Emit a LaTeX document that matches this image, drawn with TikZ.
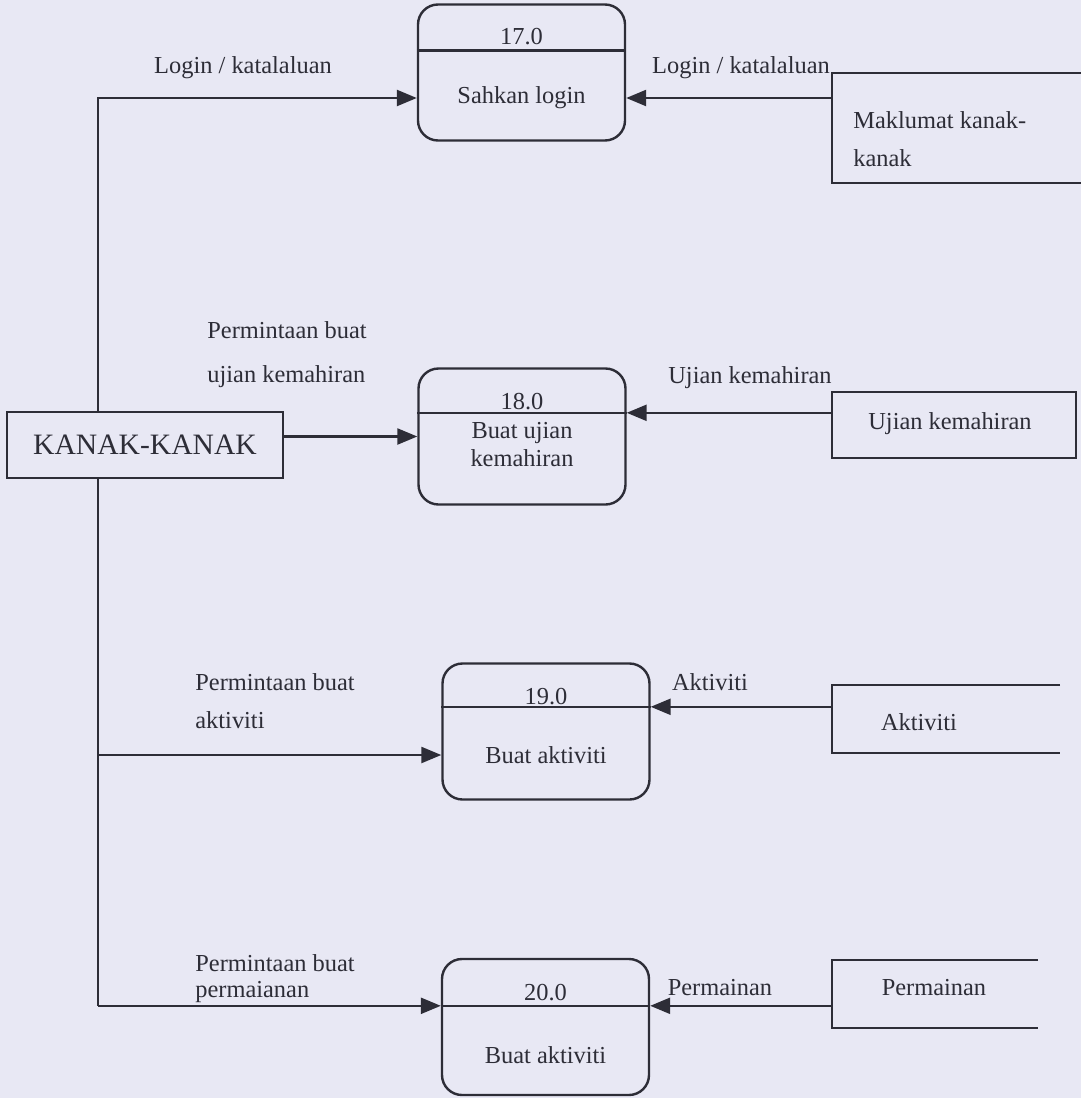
\documentclass[tikz,border=0pt]{standalone}
\usepackage{fontspec}
\setmainfont{Liberation Serif}
\usepackage{tikz}
\usetikzlibrary{arrows.meta,positioning,calc}
\definecolor{kertas}{RGB}{232,232,244}
\definecolor{dakwat}{RGB}{45,45,55}
\newcommand{\simpan}[4]{\draw[garis] (#3,#2) -- (#1,#2) -- (#1,#4) -- (#3,#4);}
\newcommand{\pembahagi}[2]{\draw[garis] ($(#1.north west)+(0,#2)$) coordinate (#1-dw) -- ($(#1.north east)+(0,#2)$) coordinate (#1-de);}
\tikzset{
  garis/.style={draw=dakwat,line width=1.2pt},
  aliran/.style={garis,-{Triangle[length=10pt,width=8pt]}},
  proses/.style={garis,rounded corners=10pt,minimum width=103.5pt,minimum height=68pt,inner sep=0pt},
  teks/.style={text=dakwat,font=\fontsize{12.2}{14}\selectfont,inner sep=0pt},
  luar/.style={garis,fill=kertas,minimum width=138pt,minimum height=33pt,inner sep=0pt,text=dakwat,font=\fontsize{14.8}{17}\selectfont}
}

\begin{document}
\begin{tikzpicture}[x=0.5pt,y=-0.5pt]
\fill[kertas] (0,0) rectangle (1081,1098);
\useasboundingbox (0,0) rectangle (1081,1098);

% proses 17.0 - 20.0
\node[proses] (p17) at (521.5,72.5) {};
\pembahagi{p17}{47}
\node[teks] (p17n) at (521.5,37) {17.0};
\node[teks] (p17t) at (521.5,98) {Sahkan login};

\node[proses] (p18) at (522,436.5) {};
\pembahagi{p18}{45.5}
\node[teks] (p18n) at (522,402) {18.0};
\node[teks,align=center] (p18t) at (522,445) {Buat ujian\\kemahiran};

\node[proses] (p19) at (546,731.5) {};
\pembahagi{p19}{44.5}
\node[teks] (p19n) at (546,697) {19.0};
\node[teks] (p19t) at (546,755) {Buat aktiviti};

\node[proses] (p20) at (545.5,1027) {};
\pembahagi{p20}{48}
\node[teks] (p20n) at (545.5,993) {20.0};
\node[teks] (p20t) at (545.5,1055) {Buat aktiviti};

% entiti luar
\node[luar] (kanak) at (145,445) {KANAK-KANAK};
\coordinate (batang) at (98,0);

% stor data
\simpan{832}{73}{1085}{183}
\draw[garis] (832,392) rectangle (1076,458);
\simpan{832}{685}{1060}{753}
\simpan{832}{960}{1038}{1028}
\coordinate (s1) at (832,128);
\coordinate (s2) at (832,425);
\coordinate (s3) at (832,719);
\coordinate (s4) at (832,994);
\node[teks,anchor=west,align=left] (s1t) at (853,139) {Maklumat kanak-\\[5pt]kanak};
\node[teks] (s2t) at (950,424) {Ujian kemahiran};
\node[teks] (s3t) at (919,722) {Aktiviti};
\node[teks] (s4t) at (934,988) {Permainan};

% aliran data
\draw[aliran] (kanak.north -| batang) |- (p17.west |- p17t);
\draw[aliran] (kanak.east |- p18.west) -- (p18.west);
\draw[garis] (kanak.south -| batang) -- (batang |- p20-dw);
\draw[aliran] (batang |- p19t) -- (p19.west |- p19t);
\draw[aliran] (batang |- p20-dw) -- (p20-dw);
\draw[aliran] (s1 |- p17t) -- (p17.east |- p17t);
\draw[aliran] (s2 |- p18-de) -- (p18-de);
\draw[aliran] (s3 |- p19-de) -- (p19-de);
\draw[aliran] (s4 |- p20-de) -- (p20-de);

% label aliran
\node[teks] (l1) at (243,68) {Login / katalaluan};
\node[teks] (l2) at (741,68) {Login / katalaluan};
\node[teks,anchor=west,align=left] (l3) at (207,355) {Permintaan buat\\[8pt]ujian kemahiran};
\node[teks] (l4) at (750,378) {Ujian kemahiran};
\node[teks,anchor=west,align=left] (l5) at (195,701) {Permintaan buat\\[5pt]aktiviti};
\node[teks] (l6) at (710,682) {Aktiviti};
\node[teks,anchor=west,align=left] (l7) at (195,979) {Permintaan buat\\[-1pt]permaianan};
\node[teks] (l8) at (720,988) {Permainan};
\end{tikzpicture}
\end{document}
